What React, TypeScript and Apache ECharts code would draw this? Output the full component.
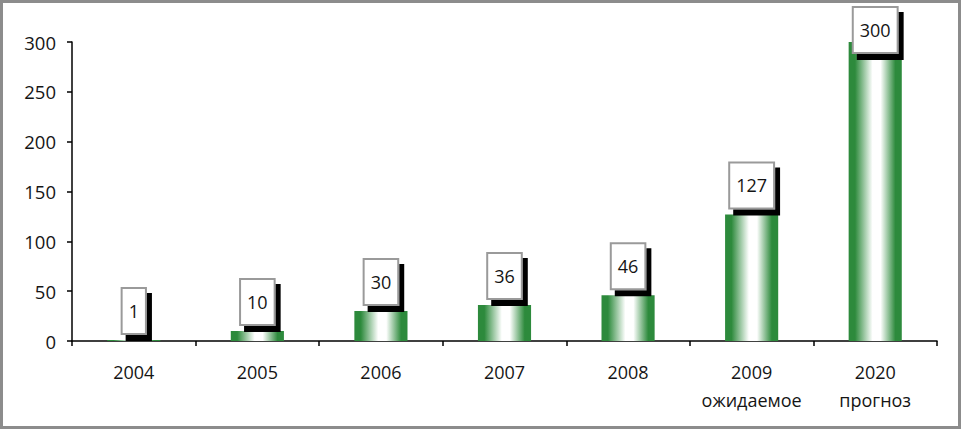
import React, { useEffect, useRef } from "react";
import * as echarts from "echarts";

const categories = ["2004", "2005", "2006", "2007", "2008", "2009\nожидаемое", "2020\nпрогноз"];
const values = [1, 10, 30, 36, 46, 127, 300];
const yTicks = { min: 0, max: 300, interval: 50 };

const FONT = "'Open Sans', 'Noto Sans', sans-serif";
const GREEN = "#2d8a3c";
const TEXT = "#151515";

export default function App() {
  const ref = useRef<HTMLDivElement>(null);
  useEffect(() => {
    document.body.style.margin = "0";
    const chart = echarts.init(ref.current!, null, { renderer: "svg" });
    const maxVal = Math.max(...values);
    chart.setOption({
      animation: false,
      backgroundColor: "#ffffff",
      grid: { left: 72, right: 24, top: 42, bottom: 88 },
      xAxis: {
        type: "category",
        data: categories,
        axisLine: { lineStyle: { color: "#000", width: 1.5 } },
        axisTick: { show: true, interval: 0, length: 5, lineStyle: { color: "#000", width: 1.5 } },
        axisLabel: { interval: 0, color: TEXT, fontSize: 18, fontFamily: FONT, margin: 17, lineHeight: 28 },
      },
      yAxis: {
        type: "value",
        min: yTicks.min,
        max: yTicks.max,
        interval: yTicks.interval,
        splitLine: { show: false },
        axisLine: { show: true, lineStyle: { color: "#000", width: 1.5 } },
        axisTick: { show: true, length: 5, lineStyle: { color: "#000", width: 1.5 } },
        axisLabel: { color: TEXT, fontSize: 18.5, fontFamily: FONT, margin: 16 },
      },
      series: [
        {
          type: "bar",
          data: values.map((v) =>
            v === maxVal ? { value: v, label: { offset: [0, 17] } } : v
          ),
          barWidth: "43%",
          itemStyle: {
            color: new echarts.graphic.LinearGradient(0, 0, 1, 0, [
              { offset: 0, color: GREEN },
              { offset: 0.12, color: GREEN },
              { offset: 0.45, color: "#ffffff" },
              { offset: 0.6, color: "#ffffff" },
              { offset: 0.88, color: GREEN },
              { offset: 1, color: GREEN },
            ]),
          },
          label: {
            show: true,
            position: "top",
            distance: 7,
            color: TEXT,
            fontSize: 18,
            fontFamily: FONT,
            lineHeight: 18,
            backgroundColor: "#ffffff",
            borderColor: "#9a9a9a",
            borderWidth: 2,
            padding: [13, 6],
            shadowColor: "#000",
            shadowOffsetX: 5,
            shadowOffsetY: 6,
            shadowBlur: 0,
          },
        },
      ],
    });
    return () => chart.dispose();
  }, []);
  return (
    <div style={{ position: "absolute", left: 0, top: 0, width: 961, height: 429 }}>
      <div ref={ref} style={{ position: "absolute", left: 0, top: 0, width: 961, height: 429 }} />
      <div
        style={{
          position: "absolute",
          left: 0,
          top: 0,
          width: 961,
          height: 429,
          boxSizing: "border-box",
          border: "3px solid #8c8c8c",
          pointerEvents: "none",
        }}
      />
    </div>
  );
}
